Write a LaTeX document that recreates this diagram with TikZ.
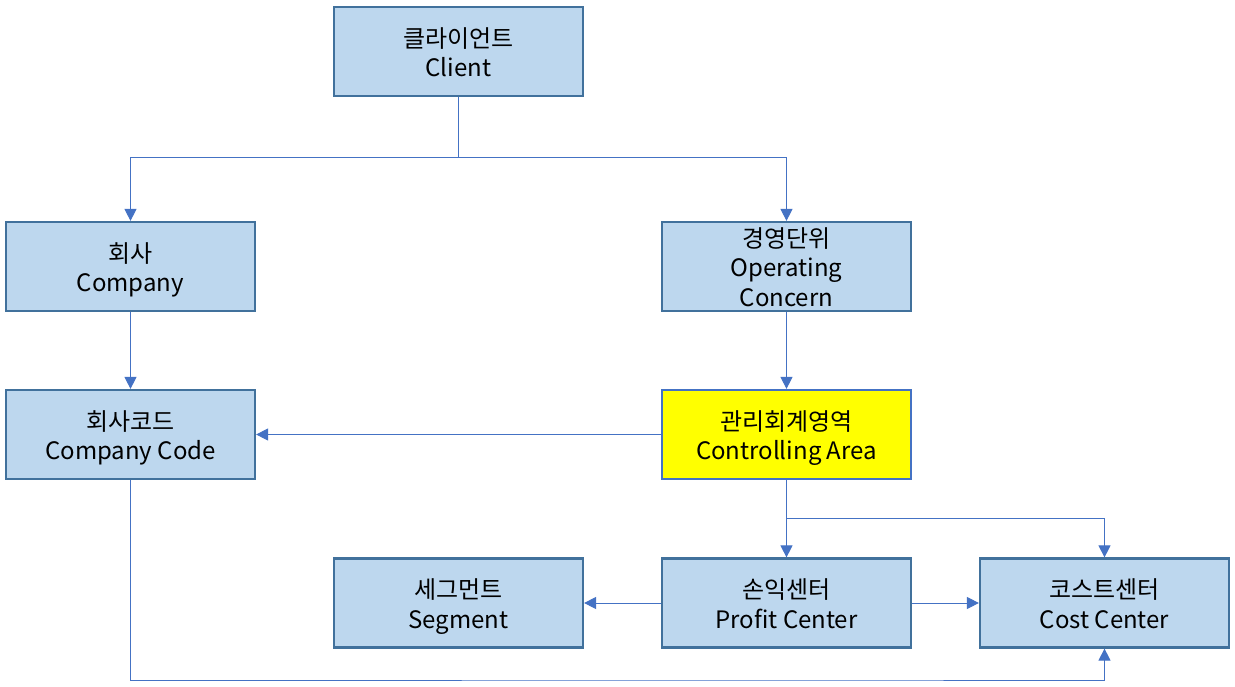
\documentclass[tikz,border=0pt]{standalone}
\usepackage{fontspec}
\setmainfont{Noto Sans CJK KR}
\usetikzlibrary{arrows.meta}
\definecolor{boxfill}{HTML}{BDD7EE}
\definecolor{boxline}{HTML}{41719C}
\definecolor{conn}{HTML}{4472C4}
\definecolor{yel}{HTML}{FFFF00}
\newcommand\topstr{\rule{0pt}{29.5pt}}
\newcommand\midstr{\rule{0pt}{20.65pt}}
\newcommand\botstr{\rule[-8.85pt]{0pt}{8.85pt}}
\begin{document}
\begin{tikzpicture}[x=1pt,y=-1pt,
  box/.style={draw=boxline,fill=boxfill,line width=2.2pt,minimum width=249pt,minimum height=89pt,
    align=center,font=\fontsize{24}{29.5}\selectfont,inner sep=0pt},
  hbox/.style={box,fill=yel,draw=conn},
  conn/.style={draw=conn,line width=1pt},
  arr/.style={conn,-{Triangle[width=12pt,length=12pt]}}]
\useasboundingbox (0,0) rectangle (1235,687);
\node[box] (client) at (458.5,51.5) {\topstr 클라이언트\\Client\botstr};
\node[box] (company) at (130.5,266.5) {\topstr 회사\\Company\botstr};
\node[box] (oc) at (786.5,266.5) {\midstr 경영단위\\Operating\\Concern};
\node[box] (cc) at (130.5,434.5) {\topstr 회사코드\\Company Code\botstr};
\node[hbox] (ca) at (786.5,434.5) {\topstr 관리회계영역\\Controlling Area\botstr};
\node[box] (seg) at (458.5,603) {\topstr 세그먼트\\Segment\botstr};
\node[box] (pc) at (786.5,603) {\topstr 손익센터\\Profit Center\botstr};
\node[box] (cost) at (1104.5,603) {\topstr 코스트센터\\Cost Center\botstr};
\coordinate (j1) at (458.5,158);
\coordinate (j2) at (786.5,518);
\draw[conn] (client.south) -- (j1);
\draw[arr] (j1) -| (company.north);
\draw[arr] (j1) -| (oc.north);
\draw[arr] (company) -- (cc);
\draw[arr] (oc) -- (ca);
\draw[arr] (ca) -- (cc);
\draw[conn] (ca.south) -- (j2);
\draw[arr] (j2) -- (pc.north);
\draw[arr] (j2) -| (cost.north);
\draw[arr] (pc) -- (seg);
\draw[arr] (pc) -- (cost);
\draw[arr] (cc.south) |- (786,680) -| (cost.south);
\end{tikzpicture}
\end{document}
